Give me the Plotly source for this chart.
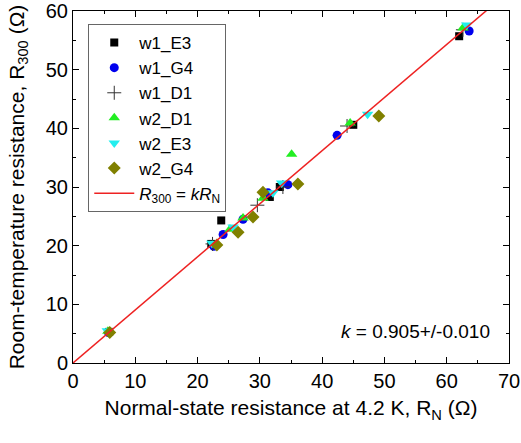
import plotly.graph_objects as go

k_fit = 0.905
fit_x = [0, 70]

w1_E3_x = [5.8, 22.2, 23.8, 31.6, 33.2, 45.0, 62.0]
w1_E3_y = [5.3, 20.3, 24.3, 28.3, 30.0, 40.6, 55.7]

w1_G4_x = [5.7, 22.6, 24.1, 27.3, 31.3, 34.5, 42.4, 63.6]
w1_G4_y = [5.2, 19.9, 21.9, 24.5, 29.0, 30.4, 38.8, 56.6]

w1_D1_x = [22.4, 29.6, 33.7, 44.0, 62.6]
w1_D1_y = [20.3, 26.9, 30.0, 40.4, 56.8]

w2_D1_x = [5.6, 25.2, 27.3, 30.5, 35.1, 44.5, 62.6]
w2_D1_y = [5.4, 22.8, 24.7, 28.1, 35.6, 40.9, 57.1]

w2_E3_x = [5.5, 22.3, 25.7, 32.1, 33.5, 47.3, 63.2]
w2_E3_y = [5.5, 20.4, 23.2, 29.0, 30.7, 42.4, 57.6]

w2_G4_x = [5.9, 23.1, 26.5, 28.9, 30.5, 36.1, 49.1]
w2_G4_y = [5.2, 20.1, 22.3, 24.9, 29.1, 30.5, 42.1]

series = [
    ("w1_E3", w1_E3_x, w1_E3_y, "square", "#000000", 8),
    ("w1_G4", w1_G4_x, w1_G4_y, "circle", "#0000ee", 9),
    ("w1_D1", w1_D1_x, w1_D1_y, "cross-thin", "#333333", 10),
    ("w2_D1", w2_D1_x, w2_D1_y, "triangle-up", "#22ee22", 10),
    ("w2_E3", w2_E3_x, w2_E3_y, "triangle-down", "#22eeee", 10),
    ("w2_G4", w2_G4_x, w2_G4_y, "diamond", "#808000", 10),
]

fig = go.Figure()
for name, xs, ys, sym, col, sz in series:
    mk = dict(symbol=sym, color=col, size=sz)
    if sym == "cross-thin":
        mk["line"] = dict(color=col, width=1)
    fig.add_trace(go.Scatter(x=xs, y=ys, mode="markers", name=name, marker=mk))

fig.add_trace(go.Scatter(
    x=fit_x, y=[k_fit * v for v in fit_x], mode="lines",
    name="<i>R</i><sub>300</sub> = <i>kR</i><sub>N</sub>",
    line=dict(color="#ee2222", width=1.5)))

axis_common = dict(
    showline=True, linecolor="black", linewidth=1, mirror="allticks",
    ticks="inside", ticklen=6, tickcolor="black", showgrid=False, zeroline=False,
    tickfont=dict(size=20, color="black"), automargin=False,
)

fig.update_layout(
    width=521, height=443,
    margin=dict(l=73, r=12, t=11, b=80),
    paper_bgcolor="white", plot_bgcolor="white",
    font=dict(family="Liberation Sans, Arial", color="black", size=20),
    showlegend=True,
    legend=dict(x=0.035, y=0.963, xanchor="left", yanchor="top",
                bordercolor="#666666", borderwidth=1, bgcolor="white",
                font=dict(size=17), tracegroupgap=0, itemwidth=40),
    xaxis=dict(range=[0, 70], dtick=10,
               minor=dict(dtick=5, ticks="inside", ticklen=3, tickcolor="black", showgrid=False),
               title=dict(text="Normal-state resistance at 4.2 K, R<sub>N</sub> (Ω)", font=dict(size=21), standoff=9),
               **axis_common),
    yaxis=dict(range=[0, 60], dtick=10,
               minor=dict(dtick=5, ticks="inside", ticklen=3, tickcolor="black", showgrid=False),
               title=dict(text="Room-temperature resistance, R<sub>300</sub> (Ω)", font=dict(size=21)),
               **axis_common),
)

fig.add_annotation(x=0.96, y=0.09, xref="paper", yref="paper", xanchor="right", yanchor="middle",
                   text="<i>k</i> = 0.905+/-0.010", showarrow=False, font=dict(size=19, color="black"))

fig.write_html("out.html")
